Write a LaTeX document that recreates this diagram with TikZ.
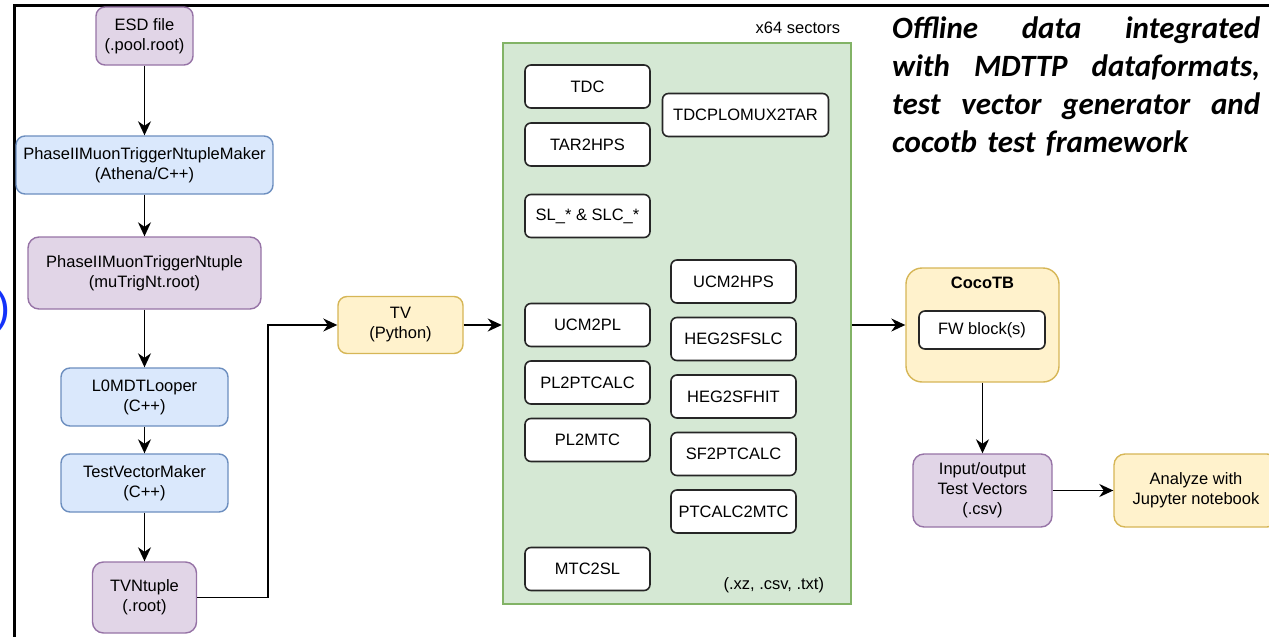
\documentclass[tikz,border=0pt]{standalone}
\usepackage{fontspec}
\setmainfont{Liberation Sans}
\newfontfamily\notefont{Carlito}
\usepackage{tikz}
\usetikzlibrary{arrows.meta}

\definecolor{purplefill}{HTML}{E1D5E7}
\definecolor{purpleline}{HTML}{9673A6}
\definecolor{bluefill}{HTML}{DAE8FC}
\definecolor{blueline}{HTML}{6C8EBF}
\definecolor{yellowfill}{HTML}{FFF2CC}
\definecolor{yellowline}{HTML}{D6B656}
\definecolor{greenfill}{HTML}{D5E8D4}
\definecolor{greenline}{HTML}{82B366}

\begin{document}
\begin{tikzpicture}[x=1pt,y=-1pt,
    every node/.style={font=\fontsize{16.5}{20}\selectfont},
    box/.style={rounded corners=9pt, line width=1.4pt, align=center, inner sep=0pt},
    filebox/.style={box, fill=purplefill, draw=purpleline},
    progbox/.style={box, fill=bluefill, draw=blueline},
    toolbox/.style={box, fill=yellowfill, draw=yellowline},
    blockbox/.style={box, fill=white, draw=black!85, line width=1.6pt, rounded corners=6pt, minimum height=43pt},
    arr/.style={-{Stealth[length=14pt,width=13pt,inset=4.5pt]}, line width=1.6pt}]
      \useasboundingbox (0,0) rectangle (1269,637);

      \draw[line width=3pt] (14,645) -- (14,5) -- (1280,5);
      \node[text={rgb,255:red,20;green,50;blue,250}, font=\fontsize{45}{45}\selectfont, anchor=base east, inner sep=0pt] (paren) at (11,322.5) {)};

      \node[filebox, minimum width=97pt, minimum height=58pt] (esd) at (144.5,36) {ESD file\\(.pool.root)};
      \node[progbox, minimum width=257pt, minimum height=58pt] (maker) at (144.5,165) {PhaseIIMuonTriggerNtupleMaker\\(Athena/C++)};
      \node[filebox, minimum width=233pt, minimum height=72pt, rounded corners=11pt] (ntuple) at (144.5,273) {PhaseIIMuonTriggerNtuple\\(muTrigNt.root)};
      \node[progbox, minimum width=167pt, minimum height=58pt] (looper) at (144.5,397) {L0MDTLooper\\(C++)};
      \node[progbox, minimum width=167pt, minimum height=58pt] (tvmaker) at (144.5,483) {TestVectorMaker\\(C++)};
      \node[filebox, minimum width=104pt, minimum height=71pt, rounded corners=11pt] (tvntuple) at (144.5,597.5) {TVNtuple\\(.root)};

      \node[toolbox, minimum width=125pt, minimum height=57pt] (tv) at (400.5,325) {TV\\(Python)};

      \node[draw=greenline, fill=greenfill, line width=2.5pt, minimum width=348pt, minimum height=561pt, inner sep=0pt] (sectors) at (677,323.5) {};
      \node[anchor=base east, inner sep=0pt] (nsectors) at ([xshift=-12pt,yshift=8pt]sectors.north east) {x64 sectors};
      \node[anchor=base east, inner sep=0pt] (formats) at ([xshift=-28pt,yshift=16pt]sectors.south east) {(.xz, .csv, .txt)};

      \node[blockbox, minimum width=125pt] (tdc) at (587.5,86.5) {TDC};
      \node[blockbox, minimum width=125pt] (tar) at (587.5,144.5) {TAR2HPS};
      \node[blockbox, minimum width=125pt] (sl) at (587.5,216) {SL\_* \& SLC\_*};
      \node[blockbox, minimum width=125pt] (ucmpl) at (587.5,325) {UCM2PL};
      \node[blockbox, minimum width=125pt] (plpt) at (587.5,382.5) {PL2PTCALC};
      \node[blockbox, minimum width=125pt] (plmtc) at (587.5,440) {PL2MTC};
      \node[blockbox, minimum width=125pt] (mtcsl) at (587.5,569) {MTC2SL};

      \node[blockbox, minimum width=166pt] (tdcmux) at (745.5,115) {TDCPLOMUX2TAR};
      \node[blockbox, minimum width=125pt] (ucmhps) at (733.5,281.5) {UCM2HPS};
      \node[blockbox, minimum width=125pt] (hegslc) at (733.5,339) {HEG2SFSLC};
      \node[blockbox, minimum width=125pt] (heghit) at (733.5,396.5) {HEG2SFHIT};
      \node[blockbox, minimum width=125pt] (sfpt) at (733.5,454) {SF2PTCALC};
      \node[blockbox, minimum width=125pt] (ptmtc) at (733.5,511.5) {PTCALC2MTC};

      \node[toolbox, minimum width=153pt, minimum height=114pt, rounded corners=16pt] (cocotb) at (982.5,325) {};
      \node[anchor=base, inner sep=0pt, font=\fontsize{16.5}{20}\selectfont\bfseries] (cocotitle) at ([yshift=-21pt]cocotb.north) {CocoTB};
      \node[blockbox, minimum width=126pt, minimum height=38pt] (fw) at (982,330) {FW block(s)};

      \node[filebox, minimum width=139pt, minimum height=73pt, rounded corners=11pt] (iotv) at (982.5,490.5) {Input/output\\Test Vectors\\(.csv)};
      \node[toolbox, minimum width=164pt, minimum height=73pt, rounded corners=11pt] (jupyter) at (1196,490.5) {Analyze with\\Jupyter notebook};

      \node[anchor=north west, inner sep=0pt, text width=368pt, align=left,
        font=\notefont\bfseries\itshape\fontsize{31}{37.7}\selectfont] (note) at (892,17)
        {Offline\hfill data\hfill integrated\\
         with\hfill MDTTP\hfill dataformats,\\
         test\hfill vector\hfill generator\hfill and\\
         cocotb test framework};

      \draw[arr] (esd) -- (maker);
      \draw[arr] (maker) -- (ntuple);
      \draw[arr] (ntuple) -- (looper);
      \draw[arr] (looper) -- (tvmaker);
      \draw[arr] (tvmaker) -- (tvntuple);
      \draw[arr] (tvntuple.east) -- ++(70.5,0) |- (tv.west);
      \draw[arr] (tv.east) -- (tv.east -| sectors.west);
      \draw[arr] (sectors.east |- cocotb) -- (cocotb.west);
      \draw[arr] (cocotb) -- (iotv);
      \draw[arr] (iotv) -- (jupyter);
    \end{tikzpicture}
\end{document}
